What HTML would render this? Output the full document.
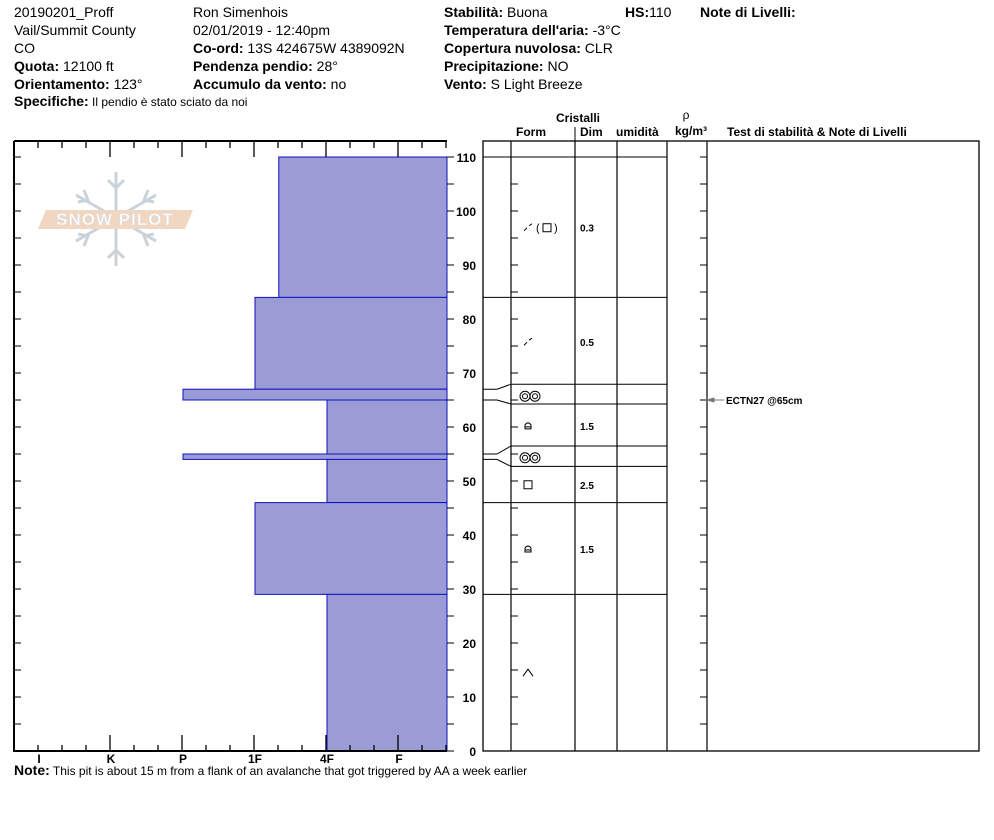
<!DOCTYPE html>
<html><head><meta charset="utf-8">
<style>
html,body{margin:0;padding:0;background:#fff;}
svg{display:block;font-family:"Liberation Sans",Arial,sans-serif;}
.h{font-size:14px;fill:#000;}
.b{font-weight:bold;}
</style></head>
<body>
<svg id="c" width="994" height="840" viewBox="0 0 994 840" xmlns="http://www.w3.org/2000/svg">
<g class="h">
<text x="14" y="17">20190201_Proff</text>
<text x="14" y="35">Vail/Summit County</text>
<text x="14" y="53">CO</text>
<text x="14" y="71"><tspan class="b">Quota:</tspan> 12100 ft</text>
<text x="14" y="89"><tspan class="b">Orientamento:</tspan> 123°</text>
<text x="14" y="106"><tspan class="b">Specifiche:</tspan><tspan font-size="12"> Il pendio è stato sciato da noi</tspan></text>
<text x="193" y="17">Ron Simenhois</text>
<text x="193" y="35">02/01/2019 - 12:40pm</text>
<text x="193" y="53"><tspan class="b">Co-ord:</tspan> 13S 424675W 4389092N</text>
<text x="193" y="71"><tspan class="b">Pendenza pendio:</tspan> 28°</text>
<text x="193" y="89"><tspan class="b">Accumulo da vento:</tspan> no</text>
<text x="444" y="17"><tspan class="b">Stabilità:</tspan> Buona</text>
<text x="625" y="17"><tspan class="b">HS:</tspan>110</text>
<text x="700" y="17" class="b">Note di Livelli:</text>
<text x="444" y="35"><tspan class="b">Temperatura dell'aria:</tspan> -3°C</text>
<text x="444" y="53"><tspan class="b">Copertura nuvolosa:</tspan> CLR</text>
<text x="444" y="71"><tspan class="b">Precipitazione:</tspan> NO</text>
<text x="444" y="89"><tspan class="b">Vento:</tspan>  S Light Breeze</text>
</g>
<g opacity="0.9">
<g stroke="#c5ced6" stroke-width="3" fill="none">
<line x1="116" y1="172" x2="116" y2="266"/>
<line x1="76" y1="195" x2="156" y2="241"/>
<line x1="76" y1="241" x2="156" y2="195"/>
<path d="M108 180 L116 188 L124 180 M108 258 L116 250 L124 258 M84 190 L88 200 L78 202 M148 190 L144 200 L154 202 M84 246 L88 236 L78 234 M148 246 L144 236 L154 234"/>
</g>
<polygon points="46,210 193,210 185,229 38,229" fill="#f0d2bb"/>
<text x="115" y="225" text-anchor="middle" font-size="17" font-weight="bold" fill="#fff" stroke="#d8d8d8" stroke-width="0.6" letter-spacing="1">SNOW PILOT</text>
</g>
<g id="bars"></g>
<g id="axes"></g>
<g id="right"></g>
<g font-size="12" font-weight="bold">
<text x="578" y="122" text-anchor="middle">Cristalli</text>
<text x="516" y="136">Form</text>
<text x="580" y="136">Dim</text>
<text x="616" y="136">umidità</text>
<text x="686" y="119" text-anchor="middle" font-weight="normal">ρ</text>
<text x="675" y="135">kg/m³</text>
<text x="727" y="136">Test di stabilità &amp; Note di Livelli</text>
</g>
<text x="14" y="775" class="h"><tspan class="b">Note:</tspan><tspan font-size="12">  This pit is about 15 m from a flank of an avalanche that got triggered by AA a week earlier</tspan></text>
</svg>
<script>
const layerTops=[110,84,67,65,55,54,46,29];
const layerBottoms=[84,67,65,55,54,46,29,0];
const layerHardness=[2.67,3,4,2,4,2,3,2];
const hardLabels=["I","K","P","1F","4F","F"];
const hardValues=[6,5,4,3,2,1];
const heightTicks=[0,10,20,30,40,50,60,70,80,90,100,110];
const grainLayers=[96.9,75.7,65.7,60.2,54.3,49.3,37.4,14.6];
const grainTypes=["pp-fc","pp","mf","fc","mf","fcsq","fc","mfcr"];
const grainSizes=["0.3","0.5","","1.5","","2.5","1.5",""];
const testHeights=[65];
const testLabels=["ECTN27 @65cm"];

const NS="http://www.w3.org/2000/svg";
const Y0=751,Y1=157,HMAX=110;
function y(v){return Y0-(Y0-Y1)*v/HMAX;}
function x(h){return 39+(6-h)*72;}
function mk(p,t,a){const e=document.createElementNS(NS,t);for(const k in a)e.setAttribute(k,a[k]);p.appendChild(e);return e;}
const bars=document.getElementById('bars'),axes=document.getElementById('axes'),R=document.getElementById('right');
for(let i=0;i<layerTops.length;i++){
 const r=mk(bars,'rect',{x:x(layerHardness[i]),y:y(layerTops[i]),width:447-x(layerHardness[i]),height:y(layerBottoms[i])-y(layerTops[i]),fill:'#9b9bd6',stroke:'#1010c0','stroke-width':1});
 
 
}
mk(axes,'path',{d:'M14 141 L447 141 M14 141 L14 751 L447 751',stroke:'#000','stroke-width':2,fill:'none'});
for(let t=14;t<=447;t+=24){const tall=(Math.round((t-39)/24)%3===0&&t>=39);mk(axes,'line',{x1:t,y1:141,x2:t,y2:tall?157:148,stroke:'#000','stroke-width':1.3});}
for(let t=14;t<=447;t+=24){const tall=(Math.round((t-39)/24)%3===0&&t>=39);mk(axes,'line',{x1:t,y1:751,x2:t,y2:tall?735:745,stroke:'#000','stroke-width':1.3});}
hardLabels.forEach((l,i)=>{const e=mk(axes,'text',{x:x(hardValues[i]),y:763,'text-anchor':'middle','font-size':12,'font-weight':'bold'});e.textContent=l;
 
 });
for(let v=0;v<=110;v+=5){mk(axes,'line',{x1:14,y1:y(v),x2:21,y2:y(v),stroke:'#000'});mk(axes,'line',{x1:447,y1:y(v),x2:454,y2:y(v),stroke:'#000'});
 mk(R,'line',{x1:511,y1:y(v),x2:518,y2:y(v),stroke:'#000'});mk(R,'line',{x1:707,y1:y(v),x2:700,y2:y(v),stroke:'#000'});}
heightTicks.forEach(v=>{const e=mk(axes,'text',{x:476,y:y(v)+5,'text-anchor':'end','font-size':12,'font-weight':'bold'});e.textContent=v;
 
 });
mk(R,'rect',{x:483,y:141,width:496,height:610,fill:'none',stroke:'#000','stroke-width':1.3});
[511,575,617,667,707].forEach(c=>mk(R,'line',{x1:c,y1:141,x2:c,y2:751,stroke:'#000','stroke-width':1.2}));
mk(R,'line',{x1:575,y1:127,x2:575,y2:141,stroke:'#000'});
mk(R,'line',{x1:483,y1:157,x2:667,y2:157,stroke:'#000'});
const bounds=[84,67,65,55,54,46,29];
const disp={67:-5,65:4,55:-8,54:7};
bounds.forEach(b=>{const yl=y(b),yr=yl+(disp[b]||0);
 mk(R,'path',{d:`M483 ${yl} L497 ${yl} L511 ${yr} L667 ${yr}`,stroke:'#000',fill:'none'});});
function glyph(t,cx,cy){const g=mk(R,'g',{stroke:'#000',fill:'none','stroke-width':1});
 if(t==='pp'||t==='pp-fc'){mk(g,'path',{d:`M${cx-4} ${cy+3} L${cx-1} ${cy} M${cx+1} ${cy-2} L${cx+4} ${cy-4}`});}
 if(t==='pp-fc'){const e=mk(g,'text',{x:cx+8,y:cy+4,'font-size':11,stroke:'none',fill:'#000'});e.textContent='(';mk(g,'rect',{x:cx+15,y:cy-4,width:8,height:8});const f=mk(g,'text',{x:cx+26,y:cy+4,'font-size':11,stroke:'none',fill:'#000'});f.textContent=')';}
 if(t==='mf'){[-5,5].forEach(d=>{mk(g,'circle',{cx:cx+d,cy:cy,r:5});mk(g,'circle',{cx:cx+d,cy:cy,r:2.5});});}
 if(t==='fc'){mk(g,'path',{d:`M${cx-3} ${cy+3} L${cx-3} ${cy-1} Q${cx} ${cy-5} ${cx+3} ${cy-1} L${cx+3} ${cy+3} Z M${cx-3} ${cy+1} L${cx+3} ${cy+1}`});}
 if(t==='fcsq'){mk(g,'rect',{x:cx-4,y:cy-4,width:8,height:8});}
 if(t==='mfcr'){mk(g,'path',{d:`M${cx-5} ${cy+4} L${cx} ${cy-3} L${cx+5} ${cy+4}`});}
 
 }
grainLayers.forEach((h,i)=>{const cy=y(h);glyph(grainTypes[i],grainTypes[i]==='mf'?530:528,cy);
 if(grainSizes[i]){const e=mk(R,'text',{x:580,y:cy+4,'font-size':10,'font-weight':'bold'});e.textContent=grainSizes[i];
 
 }});
testHeights.forEach((h,i)=>{const cy=y(h);mk(R,'path',{d:`M707 ${cy} L724 ${cy} M707 ${cy} L714 ${cy-2} L714 ${cy+2} Z`,stroke:'#777',fill:'#777'});
 const e=mk(R,'text',{x:726,y:cy+4,'font-size':10,'font-weight':'bold'});e.textContent=testLabels[i];
 
 });
</script>
</body></html>
